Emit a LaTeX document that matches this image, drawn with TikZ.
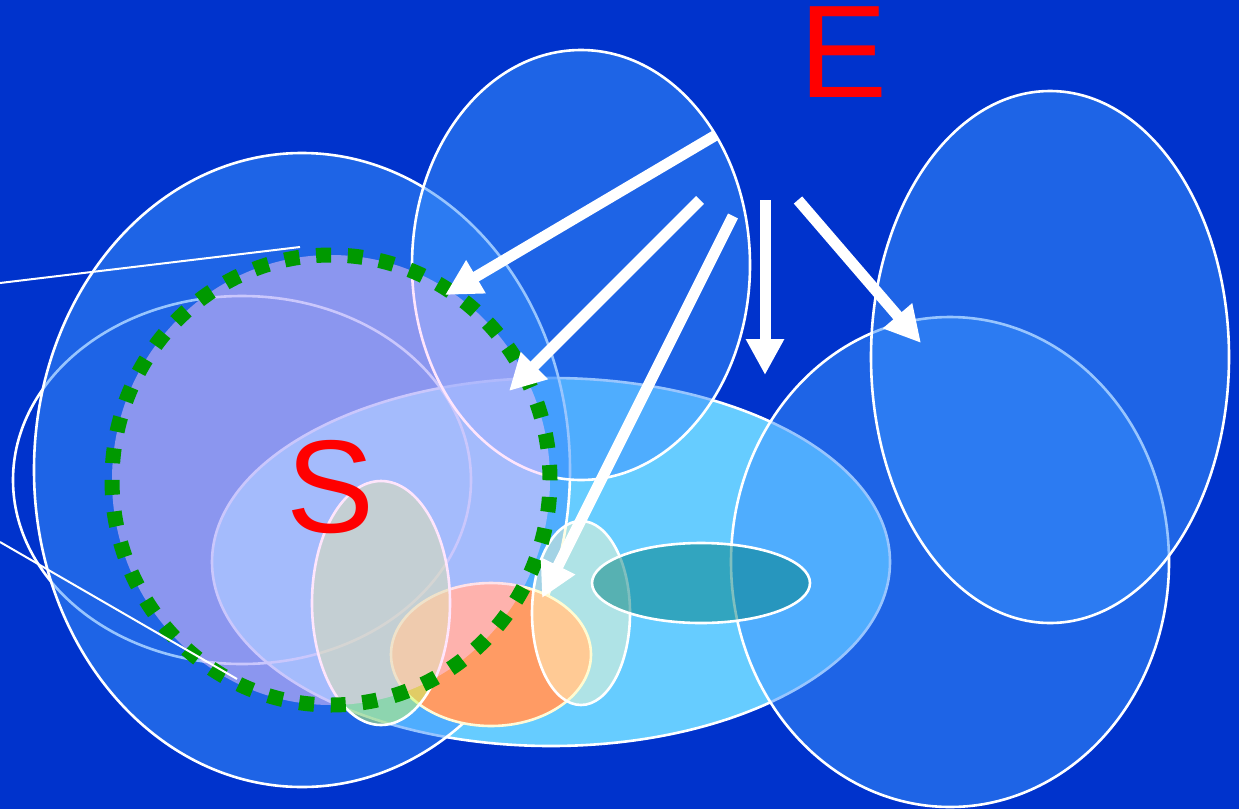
\documentclass[tikz,border=0pt]{standalone}
\usepackage{fontspec}
\setmainfont{Liberation Sans}
\usetikzlibrary{arrows.meta}
\definecolor{bgblue}{RGB}{0,51,204}
\definecolor{cyanF}{RGB}{102,204,255}
\definecolor{midblue}{RGB}{58,145,254}
\definecolor{pinkS}{RGB}{254,202,250}
\definecolor{greenG}{RGB}{198,250,103}
\definecolor{orangeH}{RGB}{255,155,100}
\definecolor{yellowI}{RGB}{255,254,203}
\definecolor{tealJ}{RGB}{0,128,128}
\definecolor{dotgreen}{RGB}{0,153,0}
\definecolor{paleyellow}{RGB}{255,250,215}
\tikzset{
  blob/.style={fill=midblue, fill opacity=0.52, draw=white, draw opacity=1, line width=2.6pt},
  outl/.style={draw=white, line width=2.6pt},
  bigarrow/.style={draw=white, line width=11pt, -{Triangle[length=36pt,width=36pt]}},
  thinline/.style={draw=white, line width=2pt},
  bigletter/.style={text=red, inner sep=0pt, font=\fontsize{132}{132}\selectfont}
}
\begin{document}
\begin{tikzpicture}[x=1pt,y=-1pt]
\useasboundingbox (0,0) rectangle (1239,809);
\fill[bgblue] (0,0) rectangle (1239,809);
% large cyan ellipse F (bottom layer)
\path[fill=cyanF, outl] (551,562) ellipse [x radius=339pt, y radius=184pt];
% outline ellipse E
\path[outl] (242,480) ellipse [x radius=229pt, y radius=184pt];
% blue blobs
\path[blob] (950,562) ellipse [x radius=219pt, y radius=245pt];
\path[blob] (1050,357) ellipse [x radius=179pt, y radius=266pt];
\path[blob] (302,470) ellipse [x radius=268pt, y radius=317pt];
\path[blob] (581,265) ellipse [x radius=169pt, y radius=215pt];
% orange H
\path[fill=orangeH, draw=paleyellow, line width=2.6pt] (491,654.5) ellipse [x radius=100pt, y radius=71.5pt];
% tall G
\path[fill=greenG, fill opacity=0.52, draw=white, line width=2.6pt] (381,603) ellipse [x radius=69pt, y radius=122pt];
% small I
\path[fill=yellowI, fill opacity=0.48, draw=white, line width=2.6pt] (581,613) ellipse [x radius=49pt, y radius=92pt];
% teal J
\path[fill=tealJ, fill opacity=0.5, draw=white, line width=2.6pt] (701,583) ellipse [x radius=109pt, y radius=40pt];
% S circle
\fill[pinkS, fill opacity=0.49] (331,480) ellipse [x radius=219pt, y radius=225pt];
\draw[dotgreen, line width=15pt, dash pattern=on 15pt off 16.7pt] (331,480) ellipse [x radius=219pt, y radius=225pt];
% thin lines
\coordinate (l1a) at (0,283);
\coordinate (l1b) at (300,247);
\coordinate (l2a) at (0,542);
\coordinate (l2b) at (237,679);
\draw[thinline] (l1a) -- (l1b);
\draw[thinline] (l2a) -- (l2b);
% arrows
\coordinate (a1s) at (716,135);
\coordinate (a1e) at (445,295);
\coordinate (a2s) at (700,200);
\coordinate (a2e) at (509,391);
\coordinate (a3s) at (733,216);
\coordinate (a3e) at (542,598);
\coordinate (a4s) at (765,200);
\coordinate (a4e) at (765,375);
\coordinate (a5s) at (798,200);
\coordinate (a5e) at (921,343);
\draw[bigarrow] (a1s) -- (a1e);
\draw[bigarrow] (a2s) -- (a2e);
\draw[bigarrow] (a3s) -- (a3e);
\draw[bigarrow] (a4s) -- (a4e);
\draw[bigarrow] (a5s) -- (a5e);
% labels
\node[bigletter] (S) at (331,487) {S};
\node[bigletter] (E) at (844,52) {E};
\end{tikzpicture}
\end{document}
